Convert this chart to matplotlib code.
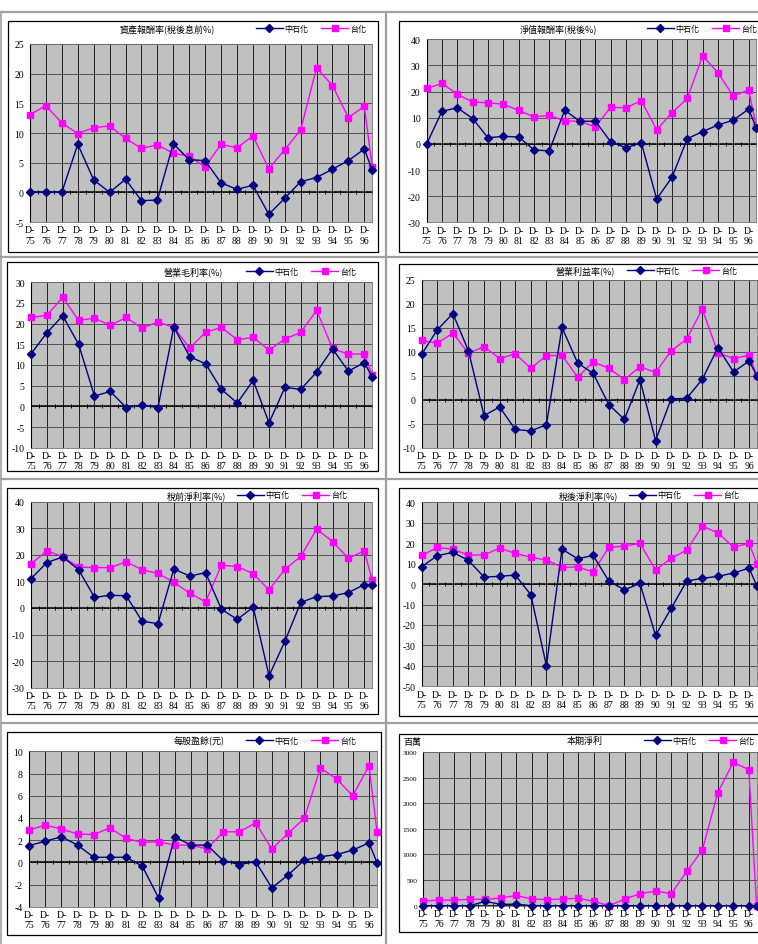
import numpy as np
import matplotlib
matplotlib.use('Agg')
import matplotlib.pyplot as plt
from matplotlib.patches import Rectangle
from matplotlib.lines import Line2D

W, H = 758, 945

# ---------------- data ----------------
years = ['75', '76', '77', '78', '79', '80', '81', '82', '83', '84', '85',
         '86', '87', '88', '89', '90', '91', '92', '93', '94', '95', '96']
series_names = ['中石化', '台化']
titles = ['資產報酬率(稅後息前%)', '淨值報酬率(稅後%)', '營業毛利率(%)', '營業利益率(%)',
          '稅前淨利率(%)', '稅後淨利率(%)', '每股盈餘(元)', '本期淨利']

# last value of each series is the partial (latest) period shown at the right edge
cp_roa_bi = [0, 0, 0, 8.1, 2.1, 0, 2.2, -1.4, -1.3, 8.2, 5.5, 5.35, 1.6, 0.5, 1.2,
             -3.7, -1.0, 1.8, 2.5, 3.9, 5.35, 7.3, 3.7]
tf_roa_bi = [13.1, 14.6, 11.7, 9.9, 10.9, 11.2, 9.1, 7.4, 8.0, 6.6, 6.1, 4.3, 8.1, 7.5,
             9.5, 4.0, 7.2, 10.5, 21.0, 18.0, 12.6, 14.5, 4.2]

cp_roe = [0, 12.5, 13.8, 9.7, 2.3, 2.9, 2.6, -2.3, -2.7, 12.9, 8.6, 8.7, 0.8, -1.5, 0.4,
          -21.1, -12.8, 2.0, 4.7, 7.2, 9.1, 13.3, 6.0]
tf_roe = [21.2, 23.1, 19.0, 16.0, 15.7, 15.2, 12.8, 10.3, 10.9, 8.8, 8.6, 6.5, 14.0, 13.8,
          16.5, 5.4, 11.9, 17.4, 33.7, 27.2, 18.3, 20.6, 6.5]

cp_gross = [12.7, 17.8, 21.9, 15.0, 2.5, 3.6, -0.3, 0.3, -0.3, 19.2, 12.0, 10.3, 4.1, 0.8,
            6.3, -4.0, 4.6, 4.1, 8.3, 13.9, 8.5, 10.6, 7.1]
tf_gross = [21.5, 22.0, 26.4, 20.8, 21.3, 19.6, 21.5, 18.9, 20.4, 19.1, 14.1, 17.9, 19.1,
            16.1, 16.7, 13.6, 16.3, 17.9, 23.2, 14.0, 12.6, 12.7, 7.5]

cp_opm = [9.5, 14.6, 18.0, 10.2, -3.3, -1.5, -6.2, -6.5, -5.2, 15.1, 7.7, 5.5, -1.0, -4.1,
          4.2, -8.5, 0.2, 0.3, 4.3, 10.9, 5.8, 8.1, 5.0]
tf_opm = [12.4, 11.8, 13.9, 9.7, 11.1, 8.6, 9.6, 6.6, 9.2, 9.3, 4.7, 7.9, 6.6, 4.2, 6.9,
          5.7, 10.2, 12.7, 18.9, 9.8, 8.6, 9.3, 5.0]

cp_pretax = [11.0, 17.1, 19.2, 14.4, 4.0, 4.8, 4.6, -5.0, -5.9, 14.7, 12.0, 13.3, -0.5,
             -4.3, 0.3, -25.5, -12.5, 2.1, 4.3, 4.5, 5.8, 8.8, 8.8]
tf_pretax = [16.6, 21.5, 19.3, 15.4, 15.2, 15.2, 17.4, 14.4, 13.0, 9.7, 5.6, 2.3, 16.1,
             15.6, 12.9, 6.8, 14.6, 19.4, 29.7, 25.0, 18.7, 21.5, 10.4]

cp_aftertax = [8.5, 13.9, 15.5, 11.6, 3.4, 3.8, 4.4, -5.2, -40.0, 17.1, 12.4, 14.0, 1.5,
               -2.8, 0.3, -25.1, -11.9, 1.5, 2.8, 3.8, 5.4, 7.8, -1.0]
tf_aftertax = [14.0, 17.9, 17.0, 14.2, 14.2, 17.6, 15.0, 13.2, 11.7, 8.3, 8.3, 6.0, 17.9,
               18.6, 19.9, 6.9, 12.6, 16.6, 28.4, 25.0, 18.1, 19.9, 10.0]

cp_eps = [1.5, 1.9, 2.3, 1.55, 0.45, 0.45, 0.45, -0.35, -3.2, 2.3, 1.55, 1.55, 0.15, -0.2,
          0.05, -2.3, -1.15, 0.2, 0.5, 0.7, 1.1, 1.75, -0.05]
tf_eps = [2.9, 3.35, 3.0, 2.55, 2.5, 3.1, 2.15, 1.8, 1.85, 1.55, 1.55, 1.2, 2.75, 2.75,
          3.55, 1.2, 2.6, 3.95, 8.5, 7.5, 6.0, 8.7, 2.7]

cp_ni = [0, 0, 0, 0, 85, 25, 30, 0, 0, 0, 0, 0, 0, 0, 0, 0, 0, 0, 0, 0, 0, 0, 0]
tf_ni = [90, 110, 110, 125, 125, 150, 200, 130, 120, 130, 145, 85, 0, 130, 235, 285, 235,
         670, 1085, 2205, 2800, 2655, 0]

chart_series = [(cp_roa_bi, tf_roa_bi), (cp_roe, tf_roe), (cp_gross, tf_gross),
                (cp_opm, tf_opm), (cp_pretax, tf_pretax), (cp_aftertax, tf_aftertax),
                (cp_eps, tf_eps), (cp_ni, tf_ni)]
y_axes = [(-5, 25, 5), (-30, 40, 10), (-10, 30, 5), (-10, 25, 5),
          (-30, 40, 10), (-50, 40, 10), (-4, 10, 2), (0, 3000, 500)]

# ---------------- layout (pixels) ----------------
layout = [
    dict(frame=(8, 22, 378, 253), plot=(30, 45, 223), title=(167, 29.5), leg=(256, 29.5)),
    dict(frame=(399, 22, 790, 253), plot=(426.7, 40.3, 223.3), title=(558, 29.5), leg=(647, 29.5)),
    dict(frame=(7, 263, 378, 472), plot=(31, 283.3, 448.7), title=(193, 272.7), leg=(246, 272.7)),
    dict(frame=(399, 265, 790, 473), plot=(421.7, 281, 448.7), title=(585, 271.7), leg=(627, 271.7)),
    dict(frame=(7, 489, 378, 715), plot=(31, 502.7, 688.7), title=(196, 496), leg=(237, 496)),
    dict(frame=(399, 489, 790, 717), plot=(421.7, 503.3, 687.3), title=(588, 496), leg=(629, 496)),
    dict(frame=(7, 733, 381, 936), plot=(29, 752.3, 907.7), title=(199, 741.7), leg=(246, 741.7)),
    dict(frame=(399, 735, 790, 933), plot=(423.3, 753, 906.7), title=(585, 741.7), leg=(644, 741.7)),
]
steps = [15.92, 15.33, 15.87, 15.59, 15.87, 15.59, 16.19, 15.5]

cjk = ['Noto Sans CJK TC', 'DejaVu Sans']
serif = 'Liberation Serif'
navy = '#000080'
pink = '#FF00FF'

fig = plt.figure(figsize=(W / 100, H / 100), dpi=100)
fig.patch.set_facecolor('white')


def fx(p):
    return p / W


def fy(p):
    return 1 - p / H


# table lines
for yy in [13, 258, 480, 724]:
    fig.add_artist(Line2D([0, 1], [fy(yy)] * 2, color='#a0a0a0', lw=1.6, zorder=-2))
fig.add_artist(Line2D([fx(386)] * 2, [fy(13), 0], color='#a0a0a0', lw=1.6, zorder=-2))
fig.add_artist(Line2D([fx(1)] * 2, [fy(13), 0], color='#a0a0a0', lw=1.2, zorder=-2))

n = len(cp_roa_bi)
xpos = np.arange(n, dtype=float)
xpos[-1] = n - 2 + 0.5   # latest partial period drawn at the right edge

for i in range(8):
    L = layout[i]
    fl, ft, fr, fb = L['frame']
    fig.add_artist(Rectangle((fx(fl), fy(fb)), (fr - fl) / W, (fb - ft) / H,
                             transform=fig.transFigure, facecolor='white',
                             edgecolor='black', lw=0.9, zorder=-1))
    pl, pt, pb = L['plot']
    pr = pl + 21.5 * steps[i]
    ax = fig.add_axes([fx(pl), fy(pb), (pr - pl) / W, (pb - pt) / H])
    ax.set_facecolor('#c0c0c0')
    lo, hi, st = y_axes[i]
    ax.set_xlim(0, 21.5)
    ax.set_ylim(lo, hi)
    ax.set_xticks(np.arange(len(years)))
    ax.set_xticklabels(['D-\n' + y for y in years], fontfamily=serif, fontsize=7,
                       linespacing=1.15)
    yt = np.arange(lo, hi + st / 2, st)
    ax.set_yticks(yt)
    ax.set_yticklabels([str(int(v)) for v in yt], fontfamily=serif,
                       fontsize=5.3 if i == 7 else 7)
    ax.tick_params(axis='both', length=0)
    ax.tick_params(axis='x', pad=2.5)
    ax.tick_params(axis='y', pad=4.5)
    ax.grid(axis='x', color='#202020', lw=0.7)
    ax.grid(axis='y', color='#505050', lw=0.7)
    ax.set_axisbelow(True)
    for s in ['top', 'right', 'bottom']:
        ax.spines[s].set_color('#707070')
        ax.spines[s].set_linewidth(0.6)
    ax.spines['left'].set_color('black')
    ax.spines['left'].set_linewidth(0.8)
    ax.axhline(0, color='black', lw=1.1, zorder=2)
    tk = np.arange(0, 21.51, 0.5)
    ax.plot(tk, np.zeros_like(tk), ls='none', marker='|', ms=3, mew=0.7,
            color='black', zorder=2, clip_on=False)
    a, b = chart_series[i]
    h1, = ax.plot(xpos, a, color=navy, lw=1.0, marker='D', ms=3.6, mec=navy, mfc=navy,
                  zorder=4, clip_on=False)
    h2, = ax.plot(xpos, b, color=pink, lw=1.0, marker='s', ms=4.2, mec=pink, mfc=pink,
                  zorder=3, clip_on=False)
    fig.text(fx(L['title'][0]), fy(L['title'][1]), titles[i], ha='center', va='center',
             fontsize=6.5, family=cjk)
    ax.legend([h1, h2], series_names, loc='center left',
              bbox_to_anchor=(fx(L['leg'][0]), fy(L['leg'][1])),
              bbox_transform=fig.transFigure, ncol=2, frameon=False,
              prop={'family': cjk, 'size': 5.8}, handlelength=3.3, handletextpad=0.25,
              columnspacing=1.6, borderpad=0, borderaxespad=0, numpoints=1)
    if i == 7:
        fig.text(fx(412), fy(743), '百萬', ha='center', va='center', fontsize=6.5,
                 family=cjk)

fig.savefig('out.png', dpi=100, facecolor='white')
